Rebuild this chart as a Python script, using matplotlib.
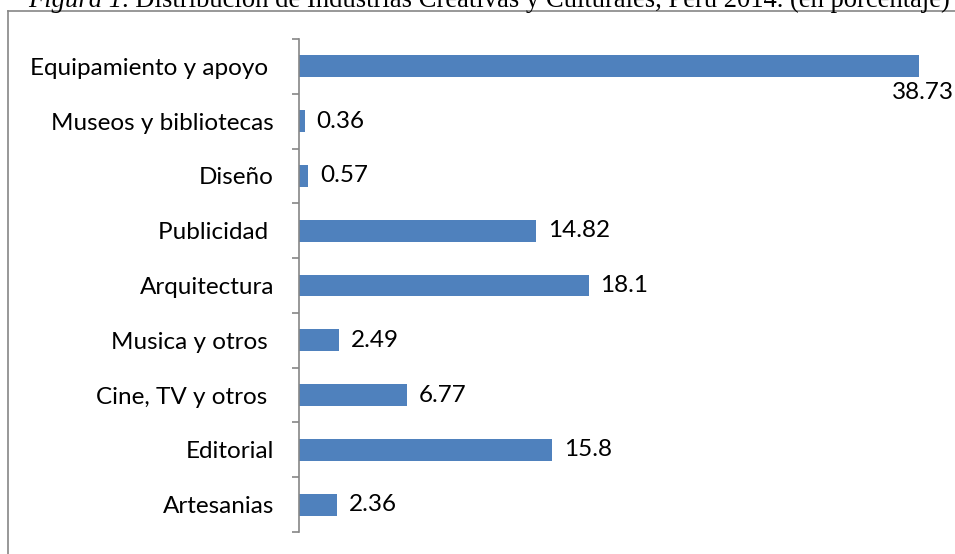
import matplotlib
matplotlib.use('Agg')
import matplotlib.pyplot as plt
from matplotlib.lines import Line2D
import numpy as np

# categories listed bottom to top, as drawn on the y axis
categorias = ['Artesanias', 'Editorial', 'Cine, TV y otros ', 'Musica y otros ',
              'Arquitectura', 'Publicidad ', 'Diseño', 'Museos y bibliotecas',
              'Equipamiento y apoyo ']
porcentajes = [2.36, 15.8, 6.77, 2.49, 18.1, 14.82, 0.57, 0.36, 38.73]
etiquetas = ['2.36', '15.8', '6.77', '2.49', '18.1', '14.82', '0.57', '0.36', '38.73']

titulo_cursiva = 'Figura 1'
titulo_resto = '. Distribución de Industrias Creativas y Culturales, Perú 2014. (en porcentaje)'

azul = '#4F81BD'
gris = '#868686'
W, H = 955, 554
fs = 17.5

plt.rcParams['font.family'] = ['Lato', 'DejaVu Sans']

fig = plt.figure(figsize=(W / 100, H / 100), dpi=100)
ax = fig.add_axes([299 / W, (H - 532) / H, 640 / W, (532 - 39) / H])

y = np.arange(len(categorias))
ax.barh(y, porcentajes, height=0.4, color=azul, zorder=2)
ax.set_xlim(0, 40)
ax.set_ylim(-0.5, len(categorias) - 0.5)

for yi, v, t in zip(y, porcentajes, etiquetas):
    if v > 35:
        # the longest bar has its label tucked under the bar end
        ax.annotate(t, (v, yi - 0.2), xytext=(3, -3), textcoords='offset points',
                    ha='center', va='top', fontsize=fs, color='black')
    else:
        ax.annotate(t, (v, yi), xytext=(8.5, 0), textcoords='offset points',
                    ha='left', va='center', fontsize=fs, color='black')

for s in ['top', 'right', 'bottom']:
    ax.spines[s].set_visible(False)
ax.spines['left'].set_color(gris)
ax.spines['left'].set_linewidth(1.2)
ax.set_xticks([])
ax.set_yticks(y)
ax.set_yticklabels(categorias, fontsize=fs)
ax.tick_params(axis='y', which='major', length=0, pad=18)
ax.set_yticks(np.arange(-0.5, len(categorias), 1.0), minor=True)
ax.tick_params(axis='y', which='minor', length=5, width=1.2, color=gris)

# outer chart frame, only its left and top edges fall inside the image
fig.add_artist(Line2D([8 / W, 8 / W], [0, 1 - 10.5 / H], color=gris, lw=1.2,
                      transform=fig.transFigure))
fig.add_artist(Line2D([8 / W, 1], [1 - 10.5 / H, 1 - 10.5 / H], color=gris, lw=1.2,
                      transform=fig.transFigure))

# caption above the frame, partly cut by the top edge
fig.canvas.draw()
r = fig.canvas.get_renderer()
t1 = fig.text(28 / W, 1 - 7 / H, titulo_cursiva, fontsize=19.2, style='italic',
              family='Liberation Serif', va='baseline', ha='left')
bb = t1.get_window_extent(r)
fig.text(bb.x1 / W, 1 - 7 / H, titulo_resto, fontsize=19.2,
         family='Liberation Serif', va='baseline', ha='left')

fig.savefig('out.png', dpi=100)
